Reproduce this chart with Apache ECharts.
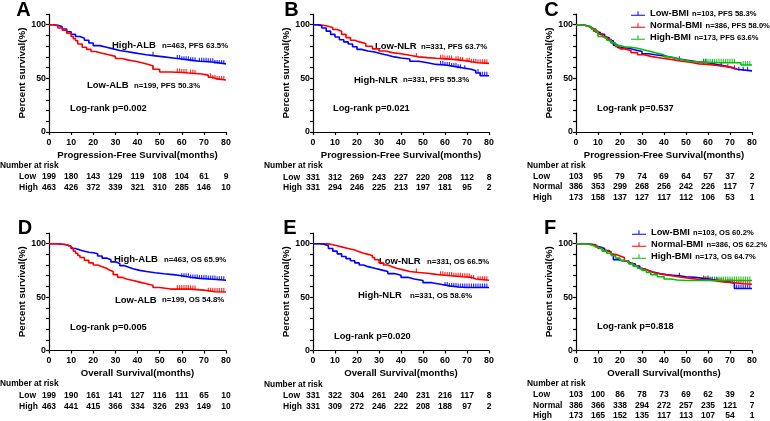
<!DOCTYPE html>
<html>
<head>
<meta charset="utf-8">
<script src="https://cdn.jsdelivr.net/npm/echarts@6/dist/echarts.min.js"></script>
<style>
  html, body { margin: 0; padding: 0; background: #fff; }
  #main { width: 770px; height: 421px; }
</style>
</head>
<body>
<div id="main"></div>
<script>
const FONT = '"Liberation Sans", Arial, sans-serif';
const BLUE = '#0000ff', RED = '#ff0000', GREEN = '#00c000';

// time points of the risk tables (months)
const riskMonths = [0, 10, 20, 30, 40, 50, 60, 70, 80];

// ---- A: PFS by ALB ----
const aHighT = [0, 2, 4, 6, 8, 10, 12, 14, 16, 18, 20, 23, 26, 29, 32, 35, 38, 41, 44, 48, 52, 56, 60, 64, 68, 72, 75, 80];
const aHighS = [100, 99.5, 98, 96, 93.5, 91, 89, 87.5, 85.5, 83, 80.5, 79, 77.5, 76, 75, 74, 73, 72, 71, 70, 69, 68, 67, 66, 65.5, 65, 63.5, 63.5];
const aLowT = [0, 2, 4, 6, 8, 10, 11, 12, 13, 15, 17, 19, 21, 24, 27, 30, 33, 36, 39, 42, 45, 47, 50, 55, 60, 63, 66, 69, 72, 74, 76, 80];
const aLowS = [100, 99, 97, 95, 92, 89, 87, 85, 82, 79, 77, 75, 73.5, 72, 70.5, 68.5, 67, 66, 64.5, 63, 61.5, 58.5, 56, 55.5, 55, 54.5, 54, 53, 51, 49.5, 48.5, 48.5];
const aHighCens = [47, 58, 59, 60, 61, 62, 63, 64, 65, 66, 68, 69, 70, 71, 72, 73, 74, 75, 76, 77, 78, 79];
const aLowCens = [47, 58, 59, 60, 61, 62, 64, 65, 66, 73, 74, 75, 76, 77, 78, 79];
const riskALow = [199, 180, 143, 129, 119, 108, 104, 61, 9];
const riskAHigh = [463, 426, 372, 339, 321, 310, 285, 146, 10];

// ---- B: PFS by NLR ----
const bLowT = [0, 3, 6, 9, 11, 13, 15, 17, 19, 21, 24, 27, 30, 33, 36, 40, 44, 48, 52, 56, 60, 64, 67, 70, 72, 75, 80];
const bLowS = [100, 99, 97.5, 95.5, 94, 91, 88, 85.5, 84, 82.5, 80, 77.5, 75.5, 74, 73, 71.5, 70, 69.3, 68.7, 68.2, 67.7, 67, 66.3, 65.5, 64.5, 64, 64];
const bHighT = [0, 2, 4, 6, 8, 10, 12, 14, 16, 18, 20, 22, 25, 28, 31, 34, 37, 40, 44, 48, 52, 56, 60, 63, 66, 69, 72, 74, 76, 80];
const bHighS = [100, 99, 97, 94, 91, 88.5, 86, 84, 82, 79.5, 77, 75.5, 74.5, 73, 71.5, 70, 69, 68, 66, 64.5, 63, 62.5, 61.5, 60.5, 59.5, 58.5, 57, 55, 52.5, 52.5];
const bLowCens = [47, 58, 59, 60, 61, 62, 63, 65, 66, 67, 68, 70, 71, 72, 73, 74, 75, 76, 77, 78, 79];
const bHighCens = [58, 59, 60, 61, 62, 63, 64, 65, 66, 67, 69, 75, 76, 77, 78, 79];
const riskBLow = [331, 312, 269, 243, 227, 220, 208, 112, 8];
const riskBHigh = [331, 294, 246, 225, 213, 197, 181, 95, 2];

// ---- C: PFS by BMI ----
const cLowT = [0, 3, 5, 7, 9, 11, 13, 15, 17, 19, 21, 24, 27, 30, 33, 36, 40, 44, 47, 50, 55, 60, 64, 68, 71, 73, 80];
const cLowS = [100, 99, 98, 96, 93, 91, 88, 85, 81, 78.5, 78, 76.5, 75, 73, 72, 71, 69.5, 68, 67, 65.5, 64.5, 63, 61.5, 60, 58.5, 57, 57];
const cNormT = [0, 2, 4, 6, 8, 10, 12, 14, 16, 18, 20, 22, 25, 28, 31, 34, 37, 40, 44, 48, 52, 56, 60, 64, 68, 71, 73];
const cNormS = [100, 99.5, 98, 96.5, 94, 91.5, 89, 86.5, 83, 79.5, 77.5, 76, 74, 72, 70.5, 69.5, 68.5, 67.5, 66, 65, 63.5, 63, 62, 61, 60, 59, 58];
const cHighT = [0, 3, 5, 7, 9, 10, 12, 14, 16, 18, 20, 22, 25, 28, 31, 34, 37, 40, 43, 46, 49, 52, 58, 65, 70, 75, 80];
const cHighS = [100, 99, 98, 96, 93, 89, 87.5, 85.5, 83, 80.5, 79.5, 79, 78, 76.5, 75, 73.5, 72, 70, 68.5, 67, 66, 65, 64.5, 64.5, 64.5, 62.5, 62.5];
const cLowCens = [47, 58, 59, 62, 66, 72, 74, 76, 78];
const cNormCens = [58, 60, 63, 66, 69];
const cHighCens = [58, 59, 60, 61, 62, 63, 64, 65, 66, 67, 68, 69, 70, 71, 72, 76, 77, 78, 79];
const riskCLow = [103, 95, 79, 74, 69, 64, 57, 37, 2];
const riskCNorm = [386, 353, 299, 268, 256, 242, 226, 117, 7];
const riskCHigh = [173, 158, 137, 127, 117, 112, 106, 53, 1];

// ---- D: OS by ALB ----
const dHighT = [0, 4, 6, 8, 10, 12, 14, 16, 18, 20, 22, 24, 26, 28, 30, 32, 34, 36, 38, 41, 44, 48, 52, 56, 60, 64, 68, 72, 76, 80];
const dHighS = [100, 99.5, 99, 97.5, 95.5, 94, 93, 92, 91.5, 90.5, 88.5, 86.5, 85, 83, 81.5, 79.5, 78, 76.5, 75, 74, 72.8, 71.8, 71, 70, 68.5, 67.5, 67, 66.5, 65.8, 65.8];
const dLowT = [0, 3, 6, 8, 9, 10, 11, 12, 13, 14, 16, 18, 20, 22, 24, 26, 27, 29, 31, 33, 35, 38, 41, 44, 47, 50, 55, 60, 64, 67, 70, 72, 75, 80];
const dLowS = [100, 99.5, 99, 98, 97, 95.5, 93, 91, 89, 87, 84.5, 82, 80, 78.5, 77, 75.5, 74, 71, 68.5, 67, 65.5, 64, 62.5, 61, 59, 57.5, 57.5, 57.5, 57, 56.5, 56, 55, 54.8, 54.8];
const dHighCens = [60, 61, 62, 63, 64, 65, 66, 67, 68, 69, 70, 71, 72, 73, 74, 75, 76, 77, 78, 79];
const dLowCens = [58, 59, 60, 61, 62, 63, 64, 65, 66, 72, 73, 74, 75, 76, 77, 78, 79];
const riskDLow = [199, 190, 161, 141, 127, 116, 111, 65, 10];
const riskDHigh = [463, 441, 415, 366, 334, 326, 293, 149, 10];

// ---- E: OS by NLR ----
const eLowT = [0, 4, 7, 9, 11, 13, 15, 17, 19, 21, 23, 25, 27, 28, 30, 32, 34, 36, 38, 41, 44, 48, 52, 56, 60, 64, 68, 72, 74, 80];
const eLowS = [100, 99.8, 99, 98, 97, 96, 95, 94, 92.5, 91, 90, 89, 87, 85, 82, 80, 78.5, 77, 75.5, 74, 73, 72.3, 71.3, 70.5, 69.8, 69, 68.5, 67, 65.7, 65.7];
const eHighT = [0, 3, 5, 7, 9, 11, 13, 15, 17, 19, 21, 23, 25, 28, 31, 34, 37, 40, 43, 46, 50, 54, 58, 62, 66, 70, 80];
const eHighS = [100, 99.5, 98, 95.5, 93, 90.5, 88, 86, 84, 82, 80, 78.5, 77, 75.5, 74, 72, 70.5, 68.5, 67, 65.5, 63.5, 62, 60.5, 59.5, 59, 59, 59];
const eLowCens = [47, 58, 59, 60, 61, 62, 63, 64, 65, 66, 67, 68, 69, 70, 71, 72, 73, 75, 76, 77, 78, 79];
const eHighCens = [60, 61, 62, 63, 64, 65, 66, 67, 68, 69, 70, 71, 72, 73, 74, 75, 76, 77, 78, 79];
const riskELow = [331, 322, 304, 261, 240, 231, 216, 117, 8];
const riskEHigh = [331, 309, 272, 246, 222, 208, 188, 97, 2];

// ---- F: OS by BMI ----
const fLowT = [0, 5, 7, 9, 11, 13, 15, 16, 17, 19, 21, 23, 25, 27, 29, 31, 33, 35, 38, 41, 44, 47, 50, 54, 58, 62, 66, 70, 72, 80];
const fLowS = [100, 99.5, 99, 97, 95.5, 93.5, 92, 90, 85, 84, 83.5, 82, 81, 79, 76.5, 75, 73.5, 72, 71, 70.5, 70, 69, 68.5, 67.5, 66.5, 65, 64, 63, 58, 58];
const fNormT = [0, 4, 6, 8, 10, 12, 14, 16, 18, 20, 22, 24, 26, 28, 30, 32, 34, 36, 39, 42, 45, 48, 52, 56, 60, 64, 68, 72, 76, 80];
const fNormS = [100, 99.5, 99, 97.5, 95.5, 93.5, 92, 90, 88.5, 87, 84, 81.5, 79, 77, 75.5, 74, 72.5, 71.5, 70.5, 69.5, 68.5, 67.5, 66.5, 66, 65, 64, 63.5, 62.5, 62, 62];
const fHighT = [0, 4, 6, 8, 10, 12, 14, 16, 18, 20, 22, 24, 26, 28, 30, 32, 34, 37, 40, 43, 46, 50, 55, 60, 65, 70, 75, 80];
const fHighS = [100, 99.5, 98, 96.5, 95, 93, 91, 89, 86.5, 84.5, 83, 81, 79, 77, 75, 73, 71, 69, 67, 66, 65.5, 65.5, 65.5, 65.5, 65.5, 65.5, 65.5, 65.5];
const fLowCens = [47, 58, 60, 62, 64, 66, 73, 74, 75, 76, 77, 78, 79];
const fNormCens = [58, 59, 60, 61, 62, 63, 64, 65, 66, 67, 68, 69, 70, 71, 72, 73, 74, 75, 76, 77, 78, 79];
const fHighCens = [58, 59, 60, 61, 62, 63, 64, 65, 66, 67, 68, 69, 70, 71, 72, 73, 74, 75, 76, 77, 78, 79];
const riskFLow = [103, 100, 86, 78, 73, 69, 62, 39, 2];
const riskFNorm = [386, 366, 338, 294, 272, 257, 235, 121, 7];
const riskFHigh = [173, 165, 152, 135, 117, 113, 107, 54, 1];

const PFS_TITLE = 'Progression-Free Survival(months)';
const OS_TITLE = 'Overall Survival(months)';

// panel definitions (layout in pixels, kept apart from the data)
const panels = [
  { letter: 'A', lx: 23.5, ly: 10, grid: { left: 49, top: 14, width: 177, height: 118 }, xName: PFS_TITLE,
    curves: [
      { name: 'A-High', color: BLUE, t: aHighT, s: aHighS, cens: aHighCens },
      { name: 'A-Low', color: RED, t: aLowT, s: aLowS, cens: aLowCens }],
    notes: [['High-ALB', 112, 45, 9.5], ['n=463, PFS 63.5%', 162, 45.5, 7.8],
            ['Low-ALB', 87, 85, 9.5], ['n=199, PFS 50.3%', 134, 85.5, 7.8],
            ['Log-rank p=0.002', 70, 108, 9.3]],
    risk: { hx: 0, hy: 166, rx: 19, rows: [['Low', riskALow, 177], ['High', riskAHigh, 188]] } },
  { letter: 'B', lx: 291.5, ly: 10, grid: { left: 313, top: 14, width: 176, height: 118 }, xName: PFS_TITLE,
    curves: [
      { name: 'B-Low', color: RED, t: bLowT, s: bLowS, cens: bLowCens },
      { name: 'B-High', color: BLUE, t: bHighT, s: bHighS, cens: bHighCens }],
    notes: [['Low-NLR', 375, 46.7, 9.5], ['n=331, PFS 63.7%', 421, 47, 7.8],
            ['High-NLR', 354, 80, 9.5], ['n=331, PFS 55.3%', 403, 80.3, 7.8],
            ['Log-rank p=0.021', 333, 108, 9.3]],
    risk: { hx: 264, hy: 166, rx: 283, rows: [['Low', riskBLow, 177.5], ['High', riskBHigh, 188]] } },
  { letter: 'C', lx: 551.5, ly: 10, grid: { left: 576, top: 14, width: 176, height: 118 }, xName: PFS_TITLE,
    curves: [
      { name: 'C-Low', color: BLUE, t: cLowT, s: cLowS, cens: cLowCens },
      { name: 'C-Normal', color: RED, t: cNormT, s: cNormS, cens: cNormCens },
      { name: 'C-High', color: GREEN, t: cHighT, s: cHighS, cens: cHighCens }],
    notes: [['Log-rank p=0.537', 597, 108, 9.3]],
    legend: { left: 631, top: 7.5 },
    risk: { hx: 527, hy: 165.7, rx: 533, rows: [['Low', riskCLow, 176.7], ['Normal', riskCNorm, 187], ['High', riskCHigh, 197.3]] } },
  { letter: 'D', lx: 25, ly: 228.3, grid: { left: 49, top: 233, width: 177, height: 117.5 }, xName: OS_TITLE,
    curves: [
      { name: 'D-High', color: BLUE, t: dHighT, s: dHighS, cens: dHighCens },
      { name: 'D-Low', color: RED, t: dLowT, s: dLowS, cens: dLowCens }],
    notes: [['High-ALB', 114, 259.3, 9.5], ['n=463, OS 65.9%', 164, 259.6, 7.8],
            ['Low-ALB', 115, 300, 9.5], ['n=199, OS 54.8%', 162, 300.3, 7.8],
            ['Log-rank p=0.005', 70, 327, 9.3]],
    risk: { hx: 0, hy: 384, rx: 19, rows: [['Low', riskDLow, 395.3], ['High', riskDHigh, 406.3]] } },
  { letter: 'E', lx: 290, ly: 228.3, grid: { left: 313, top: 233, width: 176, height: 117.5 }, xName: OS_TITLE,
    curves: [
      { name: 'E-Low', color: RED, t: eLowT, s: eLowS, cens: eLowCens },
      { name: 'E-High', color: BLUE, t: eHighT, s: eHighS, cens: eHighCens }],
    notes: [['Low-NLR', 379, 261.7, 9.5], ['n=331, OS 66.5%', 427, 262, 7.8],
            ['High-NLR', 358, 295.7, 9.5], ['n=331, OS 58.6%', 410, 296, 7.8],
            ['Log-rank p=0.020', 334, 336, 9.3]],
    risk: { hx: 264, hy: 384.3, rx: 283, rows: [['Low', riskELow, 395.3], ['High', riskEHigh, 406.7]] } },
  { letter: 'F', lx: 550, ly: 228.3, grid: { left: 576, top: 233, width: 176, height: 117.5 }, xName: OS_TITLE,
    curves: [
      { name: 'F-Low', color: BLUE, t: fLowT, s: fLowS, cens: fLowCens },
      { name: 'F-Normal', color: RED, t: fNormT, s: fNormS, cens: fNormCens },
      { name: 'F-High', color: GREEN, t: fHighT, s: fHighS, cens: fHighCens }],
    notes: [['Log-rank p=0.818', 597, 326.7, 9.3]],
    legend: { left: 632, top: 226.5 },
    risk: { hx: 527, hy: 384, rx: 533, rows: [['Low', riskFLow, 394.3], ['Normal', riskFNorm, 405.3], ['High', riskFHigh, 416]] } }
];

// legend texts for the BMI panels
const legendText = {
  'C-Low': ['Low-BMI', 'n=103, PFS 58.3%'],
  'C-Normal': ['Normal-BMI', 'n=386, PFS 58.0%'],
  'C-High': ['High-BMI', 'n=173, PFS 63.6%'],
  'F-Low': ['Low-BMI', 'n=103, OS 60.2%'],
  'F-Normal': ['Normal-BMI', 'n=386, OS 62.2%'],
  'F-High': ['High-BMI', 'n=173, OS 64.7%']
};

// survival value of a step curve at time x (puts censor ticks on the curve)
function stepAt(t, s, x) {
  let v = s[0];
  for (let i = 0; i < t.length; i++) { if (t[i] <= x) v = s[i]; }
  return v;
}

const chart = echarts.init(document.getElementById('main'), null, { renderer: 'canvas' });

const grids = [], xAxes = [], yAxes = [], series = [], legends = [];
const axisLineStyle = { color: '#000', width: 1.2 };

panels.forEach((p, i) => {
  grids.push(Object.assign({ outerBoundsMode: 'none' }, p.grid));
  xAxes.push({
    gridIndex: i, type: 'value', min: 0, max: 80, interval: 10,
    name: p.xName, nameLocation: 'middle', nameGap: 18,
    nameTextStyle: { fontSize: 9.6, fontWeight: 'bold', color: '#000', fontFamily: FONT },
    axisLine: { show: true, onZero: false, lineStyle: axisLineStyle },
    axisTick: { show: true, length: 3, lineStyle: axisLineStyle },
    axisLabel: { fontSize: 8.8, fontWeight: 'bold', color: '#000', margin: 6, fontFamily: FONT },
    splitLine: { show: false }
  });
  yAxes.push({
    gridIndex: i, type: 'value', min: 0, max: 110, interval: 10,
    name: 'Percent survival(%)', nameLocation: 'middle', nameGap: 15,
    nameTextStyle: { fontSize: 9.8, fontWeight: 'bold', color: '#000', fontFamily: FONT },
    axisLine: { show: true, onZero: false, lineStyle: axisLineStyle },
    axisTick: { show: true, length: 3, lineStyle: axisLineStyle },
    axisLabel: { fontSize: 8.8, fontWeight: 'bold', color: '#000', margin: 3, fontFamily: FONT,
      formatter: v => (v % 50 === 0 ? String(v) : '') },
    splitLine: { show: false }
  });
  p.curves.forEach(c => {
    series.push({
      name: c.name, type: 'line', step: 'end', xAxisIndex: i, yAxisIndex: i,
      showSymbol: false, symbol: 'none',
      lineStyle: { color: c.color, width: 1.6 }, itemStyle: { color: c.color },
      data: c.t.map((tt, k) => [tt, c.s[k]])
    });
    series.push({
      name: c.name, type: 'scatter', xAxisIndex: i, yAxisIndex: i,
      symbol: 'rect', symbolSize: [1.2, 4], symbolOffset: [0, -2],
      itemStyle: { color: c.color },
      data: c.cens.map(x => [x, stepAt(c.t, c.s, x)])
    });
  });
  if (p.legend) {
    legends.push({
      left: p.legend.left, top: p.legend.top, orient: 'vertical', itemGap: 0, padding: 0,
      itemWidth: 14, itemHeight: 7, selectedMode: false,
      icon: 'path://M0,5.6h20v1.4H0z M9.3,0.5h1.4v5.5H9.3z',
      data: p.curves.map(c => c.name),
      formatter: name => '{a|' + legendText[name][0] + '} {b|' + legendText[name][1] + '}',
      textStyle: { color: '#000', fontFamily: FONT, lineHeight: 11.3,
        rich: { a: { fontSize: 9.3, fontWeight: 'bold', fontFamily: FONT, color: '#000', lineHeight: 11.3 },
                b: { fontSize: 7.6, fontWeight: 'bold', fontFamily: FONT, color: '#000', lineHeight: 11.3 } } }
    });
  }
});

chart.setOption({
  animation: false,
  backgroundColor: '#fff',
  grid: grids, xAxis: xAxes, yAxis: yAxes, series: series, legend: legends
});

// texts: panel letters, annotations, risk tables (table columns follow the x axis ticks)
function txt(text, x, y, size, opt) {
  return {
    type: 'text', silent: true,
    style: Object.assign({ text: text, x: x, y: y, fontSize: size, fontFamily: FONT,
      fontWeight: 'bold', fill: '#000', align: 'left', verticalAlign: 'middle' }, opt || {})
  };
}

const graphics = [];
panels.forEach((p, i) => {
  graphics.push(txt(p.letter, p.lx, p.ly, 20, { align: 'center' }));
  p.notes.forEach(n => graphics.push(txt(n[0], n[1], n[2], n[3])));
  graphics.push(txt('Number at risk', p.risk.hx, p.risk.hy, 8.4));
  p.risk.rows.forEach(r => {
    graphics.push(txt(r[0], p.risk.rx, r[2], 8.5));
    r[1].forEach((v, k) => {
      const px = chart.convertToPixel({ xAxisIndex: i }, riskMonths[k]);
      graphics.push(txt(String(v), px, r[2], 8.5, { align: 'center' }));
    });
  });
});
chart.setOption({ graphic: graphics });
</script>
</body>
</html>
